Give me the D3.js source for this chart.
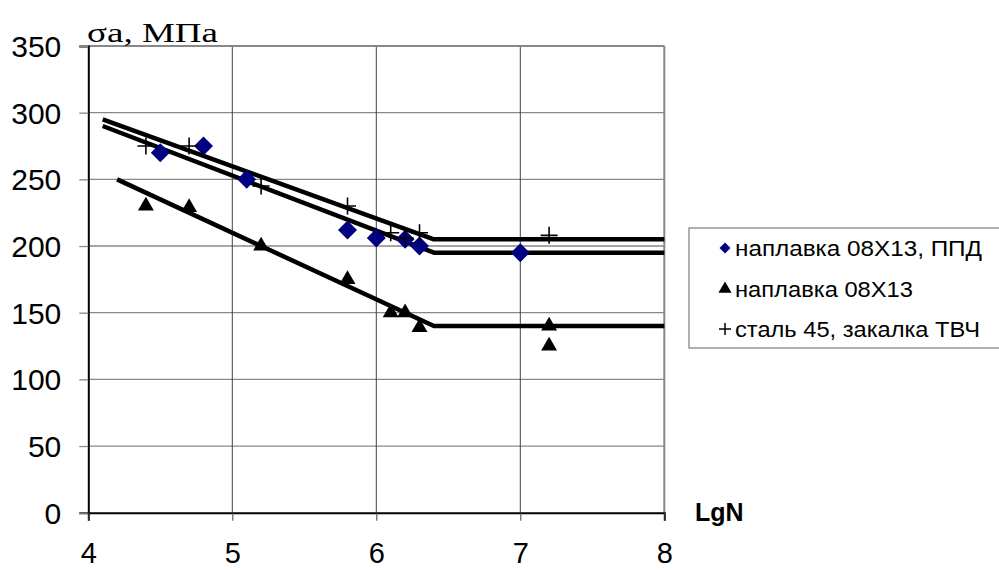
<!DOCTYPE html>
<html><head><meta charset="utf-8">
<script src="https://cdn.jsdelivr.net/npm/d3@7"></script>
<style>body{margin:0;background:#fff}svg{display:block}</style>
</head><body>
<svg id="c" width="999" height="570"></svg>
<script>
// Data
const xTicks = [4, 5, 6, 7, 8];
const yTicks = [0, 50, 100, 150, 200, 250, 300, 350];
const seriesNames = ["наплавка 08Х13, ППД", "наплавка 08Х13", "сталь 45, закалка ТВЧ"];
const diamondX = [4.5, 4.8, 5.1, 5.8, 6.0, 6.2, 6.3, 7.0];
const diamondY = [270, 275, 250, 212, 206, 205, 200, 195];
const triangleX = [4.4, 4.7, 5.2, 5.8, 6.1, 6.2, 6.3, 7.2, 7.2];
const triangleY = [230, 229, 200, 175, 150, 150, 139, 140, 125];
const plusX = [4.4, 4.7, 5.2, 5.8, 6.1, 6.2, 6.3, 7.2];
const plusY = [275, 275, 245, 230, 210, 206, 210, 208];
const trendPlusX = [4.1, 6.4, 8];
const trendPlusY = [295, 205, 205];
const trendDiamondX = [4.1, 6.4, 8];
const trendDiamondY = [290, 195, 195];
const trendTriangleX = [4.2, 6.4, 8];
const trendTriangleY = [250, 140, 140];

const svg = d3.select("#c");
const x = d3.scaleLinear().domain([4, 8]).range([88.3, 664.3]);
const y = d3.scaleLinear().domain([0, 350]).range([512.7, 46]);
const sans = "Liberation Sans, Arial, sans-serif";

// horizontal gridlines
svg.append("g").selectAll("line").data(yTicks.filter(d => d > 0)).join("line")
  .attr("x1", x(4)).attr("x2", x(8)).attr("y1", d => y(d)).attr("y2", d => y(d))
  .attr("stroke", "#888").attr("stroke-width", 1.3);
// vertical gridlines
svg.append("g").selectAll("line").data([5, 6, 7]).join("line")
  .attr("x1", d => x(d)).attr("x2", d => x(d)).attr("y1", y(350)).attr("y2", y(0))
  .attr("stroke", "#444").attr("stroke-width", 1);
// plot border top/right
svg.append("line").attr("x1", x(4)).attr("x2", x(8)).attr("y1", y(350)).attr("y2", y(350))
  .attr("stroke", "#888").attr("stroke-width", 2);
svg.append("line").attr("x1", x(8)).attr("x2", x(8)).attr("y1", y(350)).attr("y2", y(0))
  .attr("stroke", "#888").attr("stroke-width", 2);

// axes
const yAxis = d3.axisLeft(y).tickValues(yTicks).tickSize(9).tickPadding(18).tickFormat(d3.format("d"));
const gy = svg.append("g").attr("transform", `translate(${x(4)},0)`).call(yAxis);
gy.select(".domain").attr("stroke", "#000").attr("stroke-width", 2);
gy.selectAll(".tick line").attr("stroke", "#888").attr("stroke-width", 1.3);
gy.selectAll(".tick text").attr("font-family", sans).attr("font-size", 30).attr("fill", "#000").attr("dy", "0.35em");

const xAxis = d3.axisBottom(x).tickValues(xTicks).tickSize(8).tickPadding(22).tickFormat(d3.format("d"));
const gx = svg.append("g").attr("transform", `translate(0,${y(0)})`).call(xAxis);
gx.select(".domain").attr("stroke", "#000").attr("stroke-width", 2);
gx.selectAll(".tick line").attr("stroke", "#444").attr("stroke-width", 1);
gx.selectAll(".tick text").attr("font-family", sans).attr("font-size", 29).attr("fill", "#000");

// trend lines
const line = d3.line().x(d => x(d[0])).y(d => y(d[1]));
[[trendPlusX, trendPlusY], [trendDiamondX, trendDiamondY], [trendTriangleX, trendTriangleY]].forEach(([xs, ys]) => {
  svg.append("path").datum(d3.zip(xs, ys)).attr("d", line)
    .attr("fill", "none").attr("stroke", "#000").attr("stroke-width", 4.5).attr("stroke-linejoin", "round");
});

// markers
const diamond = d3.symbol().type(d3.symbolSquare).size(180)();
svg.append("g").selectAll("path").data(d3.zip(diamondX, diamondY)).join("path")
  .attr("d", diamond).attr("transform", d => `translate(${x(d[0])},${y(d[1])}) rotate(45)`)
  .attr("fill", "#000080");
const tri = d3.symbol().type(d3.symbolTriangle).size(110)();
svg.append("g").selectAll("path").data(d3.zip(triangleX, triangleY)).join("path")
  .attr("d", tri).attr("transform", d => `translate(${x(d[0])},${y(d[1])})`)
  .attr("fill", "#000");
const plusPath = "M-8.5,0H8.5M0,-8.5V8.5";
svg.append("g").selectAll("path").data(d3.zip(plusX, plusY)).join("path")
  .attr("d", plusPath).attr("transform", d => `translate(${x(d[0])},${y(d[1])})`)
  .attr("stroke", "#000").attr("stroke-width", 1.6).attr("fill", "none");

// axis titles
svg.append("text").attr("x", 87).attr("y", 42).attr("font-family", "Liberation Serif, Times New Roman, serif")
  .attr("font-size", 28).attr("fill", "#000")
  .attr("textLength", 131).attr("lengthAdjust", "spacingAndGlyphs").text("σa, МПа");
svg.append("text").attr("x", 695).attr("y", 521).attr("font-family", sans).attr("font-weight", "bold")
  .attr("font-size", 25).attr("fill", "#000").text("LgN");

// legend
svg.append("rect").attr("x", 689).attr("y", 228).attr("width", 330).attr("height", 120)
  .attr("fill", "#fff").attr("stroke", "#888").attr("stroke-width", 1.3);
const legY = [248, 289, 329];
const legW = [247, 178, 245];
const lg = svg.append("g");
lg.append("path").attr("d", d3.symbol().type(d3.symbolSquare).size(60)())
  .attr("transform", `translate(725,${legY[0]}) rotate(45)`).attr("fill", "#000080");
lg.append("path").attr("d", d3.symbol().type(d3.symbolTriangle).size(75)())
  .attr("transform", `translate(725,${legY[1]})`).attr("fill", "#000");
lg.append("path").attr("d", "M-6,0H6M0,-6V6")
  .attr("transform", `translate(725,${legY[2]})`).attr("stroke", "#000").attr("stroke-width", 1.5);
lg.selectAll("text").data(seriesNames).join("text")
  .attr("x", 735).attr("y", (d, i) => legY[i]).attr("dy", "0.35em")
  .attr("textLength", (d, i) => legW[i]).attr("lengthAdjust", "spacingAndGlyphs")
  .attr("font-family", sans).attr("font-size", 22).attr("fill", "#000").text(d => d);
</script>
</body></html>
